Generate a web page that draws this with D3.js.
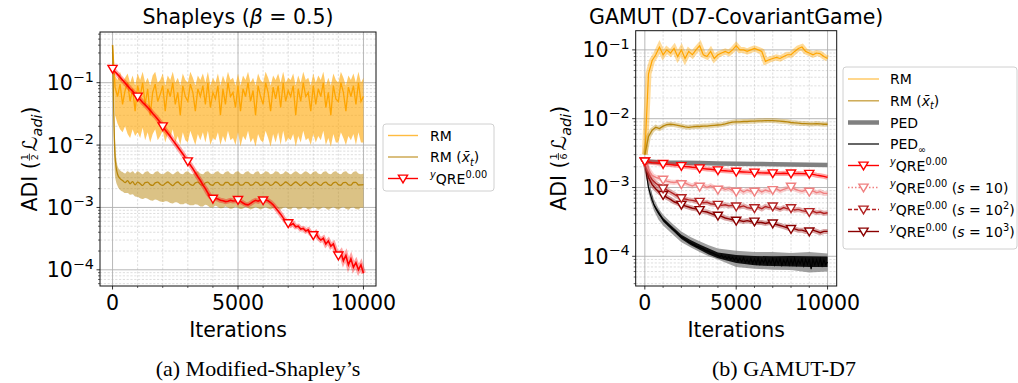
<!DOCTYPE html>
<html><head><meta charset="utf-8">
<script src="https://cdn.jsdelivr.net/npm/d3@7"></script>
<style>body{margin:0;background:#fff}svg{display:block}text{font-family:"DejaVu Sans",sans-serif;fill:#000}</style>
</head><body><svg id="c" width="1018" height="383"></svg>
<script>
// ---------------- DATA ----------------
// Left panel: Shapleys (beta = 0.5), sampled every 100 iterations
const leftIters = d3.range(0, 10001, 100);
const leftRM = [0.40,0.085,0.06,0.095,0.045,0.075,0.10,0.05,0.08,0.035,
 0.09,0.06,0.10,0.045,0.08,0.03,0.07,0.095,0.05,0.065,
 0.09,0.035,0.08,0.06,0.10,0.045,0.07,0.03,0.09,0.06,
 0.05,0.095,0.07,0.035,0.08,0.06,0.09,0.045,0.10,0.04,
 0.07,0.055,0.09,0.03,0.08,0.045,0.10,0.06,0.07,0.04,
 0.09,0.035,0.08,0.06,0.10,0.05,0.075,0.03,0.09,0.06,
 0.045,0.10,0.07,0.035,0.085,0.055,0.09,0.04,0.10,0.05,
 0.075,0.06,0.09,0.03,0.08,0.05,0.10,0.06,0.07,0.035,
 0.09,0.045,0.08,0.06,0.10,0.04,0.07,0.03,0.09,0.055,
 0.05,0.10,0.07,0.035,0.085,0.06,0.09,0.045,0.10,0.05,
 0.06];
const leftRMUpper = [0.44,0.13,0.11,0.15,0.10,0.12,0.14,0.10,0.13,0.09,
 0.14,0.11,0.15,0.10,0.12,0.09,0.13,0.15,0.10,0.11,
 0.14,0.09,0.13,0.11,0.15,0.10,0.12,0.09,0.14,0.11,
 0.10,0.15,0.12,0.09,0.13,0.11,0.14,0.10,0.15,0.09,
 0.12,0.10,0.14,0.09,0.13,0.10,0.15,0.11,0.12,0.09,
 0.14,0.09,0.13,0.11,0.15,0.10,0.12,0.09,0.14,0.11,
 0.10,0.15,0.12,0.09,0.13,0.11,0.14,0.10,0.15,0.10,
 0.12,0.11,0.14,0.09,0.13,0.10,0.15,0.11,0.12,0.09,
 0.14,0.10,0.13,0.11,0.15,0.09,0.12,0.09,0.14,0.11,
 0.10,0.15,0.12,0.09,0.13,0.11,0.14,0.10,0.15,0.10,
 0.12];
const leftRMLower = [0.38,0.030,0.022,0.018,0.016,0.020,0.015,0.013,0.018,0.014,
 0.016,0.013,0.019,0.012,0.016,0.011,0.015,0.018,0.012,0.014,
 0.017,0.011,0.015,0.013,0.018,0.011,0.014,0.010,0.016,0.012,
 0.011,0.017,0.013,0.010,0.015,0.012,0.016,0.011,0.017,0.010,
 0.013,0.012,0.016,0.010,0.014,0.011,0.017,0.012,0.013,0.010,
 0.016,0.0095,0.014,0.012,0.017,0.011,0.013,0.0095,0.015,0.012,
 0.011,0.017,0.013,0.0095,0.015,0.011,0.016,0.010,0.017,0.011,
 0.013,0.012,0.015,0.0095,0.014,0.011,0.017,0.012,0.013,0.010,
 0.015,0.011,0.014,0.012,0.017,0.010,0.013,0.0095,0.015,0.011,
 0.011,0.016,0.013,0.010,0.014,0.012,0.015,0.010,0.016,0.011,
 0.011];
const leftRMavg = [0.40,0.0065,0.0034,0.0029,0.0027,0.0025,0.0027,0.0024,0.0026,0.0023,
 0.00255,0.0024,0.00225,0.0025,0.00255,0.00232,0.00225,0.00248,0.00255,0.00235,
 0.00225,0.00242,0.00256,0.00238,0.00224,0.00244,0.00256,0.00236,0.00225,0.00246,
 0.00255,0.00234,0.00226,0.00248,0.00254,0.00233,0.00226,0.00249,0.00254,0.00232,
 0.00227,0.0025,0.00253,0.0023,0.00228,0.00251,0.00252,0.00229,0.00229,0.00252,
 0.00251,0.00228,0.0023,0.00253,0.0025,0.00227,0.00232,0.00254,0.00248,0.00226,
 0.00234,0.00255,0.00246,0.00225,0.00236,0.00256,0.00244,0.00224,0.00238,0.00256,
 0.00242,0.00224,0.0024,0.00256,0.0024,0.00224,0.00242,0.00256,0.00238,0.00224,
 0.00244,0.00255,0.00236,0.00225,0.00246,0.00255,0.00234,0.00226,0.00248,0.00254,
 0.00232,0.00227,0.0025,0.00253,0.0023,0.00228,0.00251,0.00252,0.00229,0.0023,
 0.00232];
const leftRMavgUpper = [0.42,0.012,0.0046,0.0039,0.0037,0.0035,0.0038,0.0036,0.0038,0.0035,
 0.0038,0.0036,0.0034,0.0037,0.0038,0.0035,0.0034,0.0037,0.0038,0.0035,
 0.0034,0.0036,0.0038,0.0036,0.0034,0.0036,0.0038,0.0035,0.0034,0.0037,
 0.0038,0.0035,0.0034,0.0037,0.0038,0.0035,0.0034,0.0037,0.0038,0.0035,
 0.0034,0.0037,0.0038,0.0035,0.0034,0.0037,0.0038,0.0035,0.0034,0.0037,
 0.0038,0.0035,0.0034,0.0037,0.0038,0.0035,0.0034,0.0037,0.0038,0.0034,
 0.0035,0.0038,0.0037,0.0034,0.0035,0.0038,0.0037,0.0034,0.0035,0.0038,
 0.0036,0.0034,0.0036,0.0038,0.0036,0.0034,0.0036,0.0038,0.0036,0.0034,
 0.0037,0.0038,0.0035,0.0034,0.0037,0.0038,0.0035,0.0034,0.0037,0.0038,
 0.0035,0.0034,0.0037,0.0038,0.0035,0.0034,0.0037,0.0038,0.0035,0.0034,
 0.0035];
const leftRMavgLower = [0.38,0.0032,0.0022,0.0019,0.0018,0.0017,0.0017,0.0016,0.00162,0.0015,
 0.00148,0.0014,0.00136,0.00142,0.00138,0.0013,0.00128,0.00134,0.0013,0.00124,
 0.00122,0.00126,0.00124,0.00118,0.00116,0.00121,0.00119,0.00113,0.00112,0.00117,
 0.00114,0.00108,0.00108,0.00113,0.0011,0.00104,0.00104,0.0011,0.00106,0.001,
 0.001,0.00106,0.00102,0.00097,0.00098,0.00104,0.001,0.00095,0.00097,0.00103,
 0.00099,0.00094,0.00096,0.00102,0.00098,0.00093,0.00096,0.00102,0.00097,0.00093,
 0.00097,0.00102,0.00096,0.00093,0.00098,0.00102,0.00095,0.00093,0.00099,0.00101,
 0.00094,0.00093,0.001,0.001,0.00093,0.00094,0.00101,0.00099,0.00093,0.00095,
 0.00101,0.00098,0.00092,0.00096,0.00102,0.00097,0.00092,0.00097,0.00102,0.00096,
 0.00092,0.00098,0.00102,0.00095,0.00092,0.00099,0.00101,0.00094,0.00093,0.001,
 0.00098];
const leftQRE = [0.167,0.150,0.136,0.122,0.110,0.099,0.089,0.080,0.073,0.066,
 0.060,0.054,0.048,0.044,0.040,0.036,0.032,0.029,0.026,0.023,
 0.020,0.0175,0.0155,0.0137,0.0120,0.0106,0.0093,0.0082,0.0072,0.0063,
 0.0055,0.0048,0.0042,0.0036,0.0031,0.0027,0.0023,0.0020,0.0017,0.0015,
 0.00138,0.00140,0.00136,0.00130,0.00128,0.00124,0.00126,0.00130,0.00127,0.00128,
 0.00132,0.00125,0.00118,0.00112,0.00110,0.00116,0.00124,0.00130,0.00126,0.00132,
 0.00130,0.00132,0.00128,0.00120,0.00110,0.00098,0.00088,0.00078,0.00068,0.00060,
 0.00056,0.00052,0.00055,0.00049,0.00050,0.00045,0.00046,0.00042,0.00044,0.00038,
 0.00036,0.00039,0.00033,0.00030,0.00032,0.00026,0.00029,0.00024,0.00026,0.00020,
 0.00017,0.00019,0.00014,0.00017,0.00012,0.00015,0.00011,0.00013,0.00010,0.00012,
 0.000088];

// Right panel: GAMUT (D7-CovariantGame), sampled every 200 iterations
const rightIters = d3.range(0, 10001, 200);
const rightRM = [0.003,0.045,0.07,0.085,0.11,0.085,0.10,0.09,0.105,0.08,
 0.10,0.075,0.095,0.085,0.10,0.115,0.085,0.08,0.095,0.075,
 0.085,0.09,0.095,0.09,0.10,0.115,0.10,0.10,0.095,0.10,
 0.105,0.10,0.095,0.068,0.072,0.075,0.078,0.075,0.08,0.085,
 0.085,0.095,0.105,0.11,0.095,0.09,0.085,0.09,0.088,0.08,
 0.075];
const rightRMavg = [0.003,0.0055,0.0068,0.0075,0.0072,0.0078,0.0082,0.0083,0.0082,0.0080,
 0.0078,0.0076,0.0075,0.0076,0.0077,0.0077,0.0078,0.0078,0.0079,0.0080,
 0.0081,0.0082,0.0084,0.0087,0.0089,0.0090,0.0090,0.0091,0.0091,0.0092,
 0.0092,0.0093,0.0093,0.0094,0.0094,0.0094,0.0093,0.0092,0.0091,0.0090,
 0.0088,0.0087,0.0086,0.0085,0.0085,0.0084,0.0084,0.0085,0.0084,0.0083,
 0.0083];
const pedIters = d3.range(0, 10001, 1000);
const rightPED = [0.0024,0.0023,0.00228,0.00226,0.00224,0.00222,0.0022,0.00218,0.00216,0.00214,0.00212];
const pedInfIters = d3.range(0, 10001, 100);
const rightPEDinf = [0.0024,0.0015,0.0010,0.00080,0.00065,0.00056,0.00049,0.00044,0.00040,0.00037,
 0.00034,0.00032,0.00030,0.00028,0.00027,0.00025,0.00024,0.00023,0.00021,0.00020,
 0.00019,0.000185,0.000175,0.00017,0.00016,0.000158,0.00015,0.000148,0.00014,0.000138,
 0.000135,0.00013,0.000128,0.000122,0.00012,0.000118,0.000113,0.000112,0.000108,0.000105,
 0.000103,0.000098,0.000104,0.000095,0.0001,0.000092,0.000099,0.00009,0.000097,0.000088,
 0.000096,0.000085,0.000094,0.000083,0.000095,0.000082,0.00009,0.00008,0.000093,0.000079,
 0.000091,0.000078,0.000094,0.000077,0.00009,0.00008,0.000092,0.000076,0.000089,0.000078,
 0.000093,0.000075,0.00009,0.000078,0.000092,0.000074,0.000088,0.000077,0.000091,0.000075,
 0.00009,0.000076,0.000093,0.000074,0.000088,0.000078,0.000091,0.000073,0.00009,0.000076,
 0.000092,0.000065,0.00009,0.000075,0.000089,0.000074,0.000092,0.000073,0.000088,0.000076,
 0.000082];
const pedInfBandIters = [0,100,200,300,500,750,1000,1500,2000,2500,3000,3500,4000,5000,6000,7000,8000,9000,10000];
const rightPEDinfUpper = [0.0025,0.0017,0.0012,0.00095,0.00068,0.0005,0.0004,0.0003,0.00023,0.00019,0.000165,0.000145,0.00013,0.00012,0.000115,0.000115,0.000112,0.000115,0.00011];
const rightPEDinfLower = [0.0023,0.0013,0.00085,0.00066,0.00046,0.00034,0.00028,0.00021,0.00016,0.000135,0.000115,0.0001,0.00009,0.00007,0.000066,0.000064,0.000063,0.000058,0.00006];
// spread of the noisy PED-infinity trace itself (dark core)
const pedInfNoiseIters = [0,500,1000,1500,2000,2500,3000,3500,4000,5000,6000,7000,8000,9000,10000];
const rightPEDinfNoiseUpper = [0.0024,0.00058,0.00036,0.00027,0.000205,0.000172,0.000148,0.00013,0.000114,0.000104,0.000101,0.0001,0.000101,0.0001,0.000099];
const rightPEDinfNoiseLower = [0.0024,0.00054,0.00032,0.00024,0.000178,0.000146,0.000124,0.000106,0.000094,0.00008,0.000074,0.000072,0.000071,0.00007,0.00007];
const rightQRE = [0.0024,0.00235,0.0023,0.00228,0.00225,0.0022,0.00218,0.00215,0.00212,0.0021,
 0.00205,0.00202,0.002,0.00197,0.00195,0.0019,0.00188,0.00186,0.00184,0.00181,
 0.00178,0.00176,0.00175,0.00173,0.00172,0.0017,0.00169,0.00168,0.00167,0.00166,
 0.00165,0.00164,0.00163,0.00162,0.00162,0.00161,0.0016,0.0016,0.00161,0.0016,
 0.0016,0.00159,0.0016,0.00159,0.00158,0.00158,0.00155,0.00151,0.00148,0.00145,
 0.0014];
const rightQREs10 = [0.0024,0.0018,0.0015,0.0014,0.00135,0.0013,0.00124,0.0012,0.00118,0.00121,
 0.00112,0.00116,0.0011,0.00105,0.00112,0.00103,0.00108,0.001,0.00106,0.00098,
 0.00093,0.00099,0.00094,0.00097,0.0009,0.00087,0.00093,0.00086,0.00092,0.00088,
 0.00087,0.00093,0.00086,0.00092,0.00088,0.00092,0.00096,0.00089,0.00094,0.00098,
 0.00103,0.00095,0.00091,0.00088,0.00092,0.00087,0.00089,0.00084,0.00087,0.00082,
 0.00082];
const rightQREs100 = [0.0024,0.0016,0.0013,0.00115,0.00105,0.00097,0.00092,0.00086,0.0008,0.00074,
 0.0007,0.00068,0.00066,0.00065,0.00063,0.00062,0.0006,0.00061,0.00058,0.00057,
 0.00056,0.00055,0.00056,0.00054,0.00055,0.00053,0.00052,0.00054,0.00051,0.0005,
 0.0005,0.00052,0.00049,0.00053,0.00051,0.00053,0.0005,0.00048,0.00051,0.00049,
 0.0005,0.00047,0.00048,0.00046,0.00045,0.00044,0.00045,0.00043,0.00044,0.00042,
 0.00043];
const rightQREs1000 = [0.0024,0.0014,0.0011,0.00095,0.00085,0.00078,0.00072,0.00067,0.00062,0.00059,
 0.00056,0.00054,0.00052,0.0005,0.00049,0.00047,0.00045,0.00044,0.00042,0.0004,
 0.00039,0.00038,0.00036,0.00035,0.00034,0.00033,0.00033,0.00032,0.00033,0.00032,
 0.00032,0.00031,0.00031,0.0003,0.00031,0.0003,0.00029,0.00028,0.00027,0.00026,
 0.00025,0.00025,0.00024,0.00024,0.00023,0.00023,0.00024,0.00023,0.00022,0.00023,
 0.00023];

const xTicks = [0, 5000, 10000];
const titles = ["Shapleys (", "GAMUT (D7-CovariantGame)"];
const captions = ["(a) Modified-Shapley\u2019s", "(b) GAMUT-D7"];

// ---------------- DRAWING ----------------
const svg = d3.select('#c');
const defs = svg.append('defs');
const tri = 'M-4.6,-3.4L4.6,-3.4L0,4.4Z';

function rich(parent, x, y, segs, fs, anchor) {
  const t = parent.append('text').attr('x', x).attr('y', y).attr('font-size', fs).attr('text-anchor', anchor || 'start');
  let cur = 0;
  segs.forEach(s => {
    if (typeof s === 'string') s = {t: s};
    const off = s.sup ? -0.42 * fs : s.sub ? 0.25 * fs : 0;
    const sp = t.append('tspan').text(s.t).attr('dy', off - cur);
    cur = off;
    if (s.sup || s.sub) sp.attr('font-size', fs * (s.scale || 0.7));
    if (s.it) sp.attr('font-style', 'italic');
  });
  return t;
}

function pts(xs, ys) { return xs.map((x, i) => [x, ys[i]]).filter(d => d[1] !== undefined); }

function panel(o) {
  const x = d3.scaleLinear().domain([-500, 10500]).range([o.x0, o.x1]);
  const y = d3.scaleLog().domain(o.yDom).range([o.y1, o.y0]);
  const g = svg.append('g');
  const cid = 'clip' + o.name;
  defs.append('clipPath').attr('id', cid).append('rect')
    .attr('x', o.x0).attr('y', o.y0).attr('width', o.x1 - o.x0).attr('height', o.y1 - o.y0);
  const grid = g.append('g');
  const minorY = [];
  for (let e = -5; e <= 0; e++) for (let k = 2; k <= 9; k++) {
    const v = k * Math.pow(10, e);
    if (v > o.yDom[0] && v < o.yDom[1]) minorY.push(v);
  }
  const majorY = [1e-4, 1e-3, 1e-2, 1e-1].filter(v => v > o.yDom[0] && v < o.yDom[1]);
  const minorX = d3.range(1000, 10000, 1000).filter(v => v % 5000 !== 0);
  grid.selectAll('.mgx').data(minorX).join('line')
    .attr('x1', d => x(d)).attr('x2', d => x(d)).attr('y1', o.y0).attr('y2', o.y1)
    .attr('stroke', '#c8c8c8').attr('stroke-width', 0.6).attr('stroke-dasharray', '2.2,1.6');
  grid.selectAll('.mgy').data(minorY).join('line')
    .attr('y1', d => y(d)).attr('y2', d => y(d)).attr('x1', o.x0).attr('x2', o.x1)
    .attr('stroke', '#c8c8c8').attr('stroke-width', 0.6).attr('stroke-dasharray', '2.2,1.6');
  grid.selectAll('.Mgx').data(xTicks).join('line')
    .attr('x1', d => x(d)).attr('x2', d => x(d)).attr('y1', o.y0).attr('y2', o.y1)
    .attr('stroke', '#b0b0b0').attr('stroke-width', 0.9);
  grid.selectAll('.Mgy').data(majorY).join('line')
    .attr('y1', d => y(d)).attr('y2', d => y(d)).attr('x1', o.x0).attr('x2', o.x1)
    .attr('stroke', '#b0b0b0').attr('stroke-width', 0.9);

  const data = g.append('g').attr('clip-path', `url(#${cid})`);
  const line = (curve) => d3.line().x(d => x(d[0])).y(d => y(d[1])).curve(curve || d3.curveLinear);
  const area = (curve) => d3.area().x(d => x(d[0])).y0(d => y(d[1])).y1(d => y(d[2])).curve(curve || d3.curveLinear);
  o.draw(data, x, y, line, area);

  // axes ticks
  const ax = g.append('g');
  ax.selectAll('.tx').data(xTicks).join('line').attr('x1', d => x(d)).attr('x2', d => x(d))
    .attr('y1', o.y1).attr('y2', o.y1 + 3.5).attr('stroke', '#000').attr('stroke-width', 0.8);
  ax.selectAll('.mtx').data(minorX).join('line').attr('x1', d => x(d)).attr('x2', d => x(d))
    .attr('y1', o.y1).attr('y2', o.y1 + 2).attr('stroke', '#000').attr('stroke-width', 0.6);
  ax.selectAll('.ty').data(majorY).join('line').attr('y1', d => y(d)).attr('y2', d => y(d))
    .attr('x1', o.x0 - 3.5).attr('x2', o.x0).attr('stroke', '#000').attr('stroke-width', 0.8);
  ax.selectAll('.mty').data(minorY).join('line').attr('y1', d => y(d)).attr('y2', d => y(d))
    .attr('x1', o.x0 - 2).attr('x2', o.x0).attr('stroke', '#000').attr('stroke-width', 0.6);
  xTicks.forEach(v => {
    ax.append('text').attr('x', x(v)).attr('y', o.y1 + 24).attr('text-anchor', 'middle')
      .attr('font-size', 20.5).text(d3.format('d')(v));
  });
  majorY.forEach(v => {
    const e = Math.round(Math.log10(v));
    rich(ax, o.x0 - 6, y(v) + 7.5, ['10', {t: '\u2212' + Math.abs(e), sup: true}], 20.5, 'end');
  });
  // spines
  g.append('rect').attr('x', o.x0).attr('y', o.y0).attr('width', o.x1 - o.x0).attr('height', o.y1 - o.y0)
    .attr('fill', 'none').attr('stroke', '#111').attr('stroke-width', 1);
  // x label
  g.append('text').attr('x', (o.x0 + o.x1) / 2).attr('y', o.y1 + 51).attr('text-anchor', 'middle')
    .attr('font-size', 20.5).text('Iterations');
  // y label with fraction
  const yl = g.append('g');
  const t1 = yl.append('text').attr('x', 0).attr('y', 0).attr('font-size', 20.5).text('ADI (');
  const w1 = t1.node().getComputedTextLength();
  const fw = 8;
  yl.append('text').attr('x', w1 + fw / 2).attr('y', -9.5).attr('font-size', 9.5).attr('text-anchor', 'middle').text('1');
  yl.append('line').attr('x1', w1 + 0.5).attr('x2', w1 + fw - 0.5).attr('y1', -7.6).attr('y2', -7.6).attr('stroke', '#000').attr('stroke-width', 0.8);
  yl.append('text').attr('x', w1 + fw / 2).attr('y', 0.5).attr('font-size', 9.5).attr('text-anchor', 'middle').text(o.den);
  const t2 = rich(yl, w1 + fw + 2, 0, [{t: '\u2112', it: true}, {t: 'adi', sub: true, it: true}, {t: ')'}], 20.5);
  const W = w1 + fw + 2 + t2.node().getComputedTextLength();
  yl.attr('transform', `translate(${o.ylx},${(o.y0 + o.y1) / 2 + W / 2}) rotate(-90)`);
  // title
  o.title(g.append('g'), (o.x0 + o.x1) / 2);
  // caption
  g.append('text').attr('x', o.capX).attr('y', 376).attr('text-anchor', 'middle')
    .style('font-family', '"Liberation Serif", serif').attr('font-size', 22).text(o.caption);
}

function markers(gr, x, y, xs, ys, stroke, fill) {
  const m = pts(xs, ys).filter(d => d[0] % 1000 === 0 && d[0] < 10000);
  gr.selectAll(null).data(m).join('path').attr('d', tri)
    .attr('transform', d => `translate(${x(d[0])},${y(d[1])})`)
    .attr('fill', fill || '#fff').attr('stroke', stroke).attr('stroke-width', 1.4);
}

// ---- Left panel ----
panel({
  name: 'L', x0: 100, x1: 376, y0: 32, y1: 286, yDom: [5.5e-5, 0.65], den: '2', ylx: 37, capX: 258,
  caption: captions[0],
  title: (tg, cx) => rich(tg, cx, 24, [titles[0], {t: '\u03B2', it: true}, ' = 0.5)'], 20.5, 'middle'),
  draw: (gr, x, y, line, area) => {
    gr.append('path').datum(leftIters.map((it, i) => [it, leftRMLower[i], leftRMUpper[i]]))
      .attr('d', area()).attr('fill', '#FFA500').attr('opacity', 0.6);
    gr.append('path').datum(pts(leftIters, leftRM)).attr('d', line())
      .attr('fill', 'none').attr('stroke', '#FFA500').attr('stroke-width', 1.3);
    gr.append('path').datum(leftIters.map((it, i) => [it, leftRMavgLower[i], leftRMavgUpper[i]]))
      .attr('d', area(d3.curveMonotoneX)).attr('fill', '#B8860B').attr('opacity', 0.5);
    gr.append('path').datum(pts(leftIters, leftRMavg)).attr('d', line(d3.curveMonotoneX))
      .attr('fill', 'none').attr('stroke', '#B8860B').attr('stroke-width', 1.3);
    gr.append('path').datum(pts(leftIters, leftQRE)).attr('d', line())
      .attr('fill', 'none').attr('stroke', '#ff0000').attr('stroke-opacity', 0.35).attr('stroke-width', 5);
    gr.append('path').datum(pts(leftIters, leftQRE)).attr('d', line())
      .attr('fill', 'none').attr('stroke', '#ff0000').attr('stroke-width', 1.6);
    markers(gr, x, y, leftIters, leftQRE, '#ff0000');
  }
});

// ---- Right panel ----
panel({
  name: 'R', x0: 635.7, x1: 836.7, y0: 30.7, y1: 286, yDom: [3.7e-5, 0.19], den: '6', ylx: 566, capX: 784,
  caption: captions[1],
  title: (tg, cx) => rich(tg, cx, 24, [titles[1]], 20.5, 'middle'),
  draw: (gr, x, y, line, area) => {
    const thick = (xs, ys, col, w, op, dash) => {
      gr.append('path').datum(pts(xs, ys)).attr('d', line()).attr('fill', 'none')
        .attr('stroke', col).attr('stroke-width', w).attr('stroke-opacity', op)
        .attr('stroke-dasharray', dash || null);
    };
    thick(rightIters, rightRM, '#FFA500', 6, 0.4);
    thick(rightIters, rightRM, '#FFA500', 1.2, 1);
    thick(rightIters, rightRMavg, '#B8860B', 5, 0.35);
    thick(rightIters, rightRMavg, '#B8860B', 1.3, 1);
    thick(pedIters, rightPED, '#808080', 4.5, 1);
    gr.append('path').datum(pedInfBandIters.map((it, i) => [it, rightPEDinfLower[i], rightPEDinfUpper[i]]))
      .attr('d', area()).attr('fill', '#808080').attr('opacity', 0.75);
    gr.append('path').datum(pedInfNoiseIters.map((it, i) => [it, rightPEDinfNoiseLower[i], rightPEDinfNoiseUpper[i]]))
      .attr('d', area()).attr('fill', '#000').attr('opacity', 0.9);
    thick(pedInfIters, rightPEDinf, '#000', 1.2, 1);
    const reds = [
      [rightQREs1000, '#8B0000', null],
      [rightQREs100, '#B22222', null],
      [rightQREs10, '#F08080', null],
      [rightQRE, '#FF0000', null]
    ];
    reds.forEach(r => { thick(rightIters, r[0], r[1], 5, 0.35); thick(rightIters, r[0], r[1], 1.4, 1); });
    reds.forEach(r => markers(gr, x, y, rightIters, r[0], r[1]));
  }
});

// ---------------- LEGENDS ----------------
function legend(bx, by, bw, bh, items, lx0, lx1, tx) {
  const lg = svg.append('g');
  lg.append('rect').attr('x', bx).attr('y', by).attr('width', bw).attr('height', bh).attr('rx', 3)
    .attr('fill', '#fff').attr('fill-opacity', 0.8).attr('stroke', '#d0d0d0').attr('stroke-width', 1);
  items.forEach(it => {
    lg.append('line').attr('x1', lx0).attr('x2', lx1).attr('y1', it.y).attr('y2', it.y)
      .attr('stroke', it.c).attr('stroke-width', it.w || 1.4).attr('stroke-opacity', it.op || 1)
      .attr('stroke-dasharray', it.dash || null);
    if (it.m) lg.append('path').attr('d', tri).attr('transform', `translate(${(lx0 + lx1) / 2},${it.y})`)
      .attr('fill', '#fff').attr('stroke', it.c).attr('stroke-width', 1.4);
    rich(lg, tx, it.y + 5, it.label, 14);
  });
}
const qre = [{t: 'y', sup: true, it: true}, 'QRE', {t: '0.00', sup: true}];
const rmavgLabel = ['RM (', {t: 'x\u0304', it: true}, {t: 't', sub: true, it: true}, ')'];
legend(383, 124, 111, 67, [
  {y: 135.5, c: '#FFA500', op: 0.75, label: ['RM']},
  {y: 157, c: '#B8860B', op: 0.75, label: rmavgLabel},
  {y: 178.5, c: '#FF0000', m: true, label: qre}
], 388, 418, 430);
legend(843, 67, 174, 182, [
  {y: 79, c: '#FFA500', op: 0.75, w: 1.2, label: ['RM']},
  {y: 100.8, c: '#B8860B', op: 0.75, label: rmavgLabel},
  {y: 122.5, c: '#808080', w: 4.5, label: ['PED']},
  {y: 144, c: '#000', w: 1.2, label: ['PED', {t: '\u221E', sub: true}]},
  {y: 165.5, c: '#FF0000', m: true, label: qre},
  {y: 187.5, c: '#F08080', m: true, dash: '1.5,2', label: qre.concat([' (', {t: 's', it: true}, ' = 10)'])},
  {y: 209.5, c: '#B22222', m: true, dash: '4,2', label: qre.concat([' (', {t: 's', it: true}, ' = 10', {t: '2', sup: true}, ')'])},
  {y: 231.5, c: '#8B0000', m: true, label: qre.concat([' (', {t: 's', it: true}, ' = 10', {t: '3', sup: true}, ')'])}
], 848, 879, 890);
</script></body></html>
